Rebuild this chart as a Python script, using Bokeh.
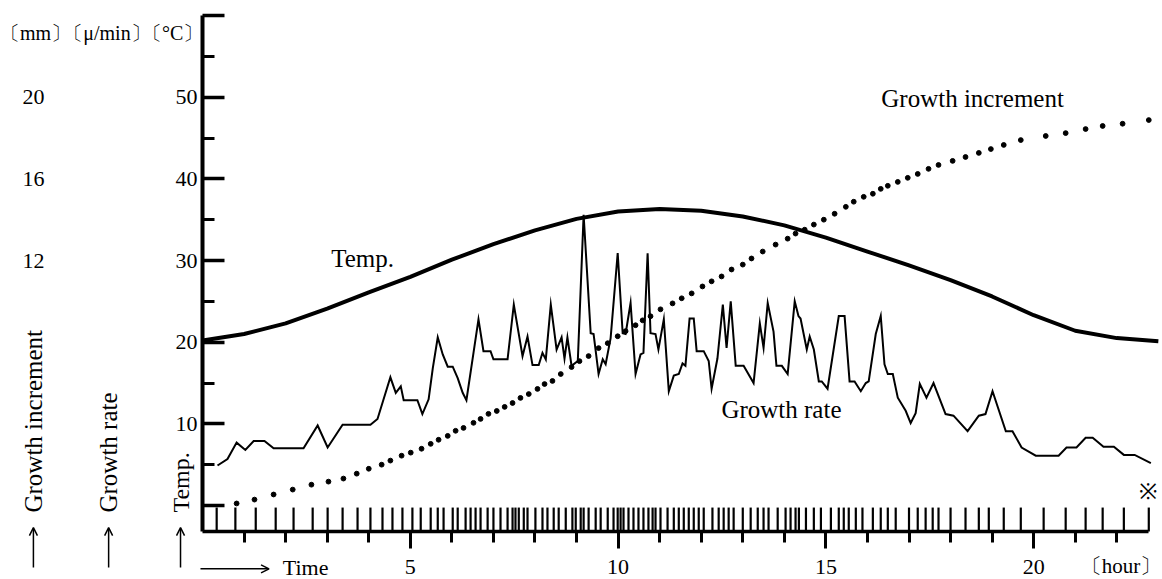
from bokeh.plotting import figure
from bokeh.models import Range1d, LinearAxis, FixedTicker, Arrow, OpenHead
from bokeh.core.properties import value
from bokeh.embed import file_html
from bokeh.resources import INLINE

# ---------------- data ----------------
temp_hours = [0, 1, 2, 3, 4, 5, 6, 7, 8, 9, 10, 11, 12, 13, 14, 15, 16, 17, 18, 19, 20, 21, 22, 23]
temp_c = [20.2, 21.0, 22.3, 24.1, 26.1, 28.0, 30.1, 32.0, 33.7, 35.1, 36.0, 36.3,
          36.1, 35.4, 34.3, 32.8, 31.1, 29.4, 27.6, 25.6, 23.3, 21.4, 20.5, 20.1]

rate_hours = [0.36, 0.60, 0.82, 1.03, 1.23, 1.49, 1.71, 2.43, 2.77, 3.01,
              3.37, 4.04, 4.21, 4.52, 4.65, 4.77, 4.84, 5.17, 5.29, 5.44,
              5.54, 5.66, 5.78, 5.90, 6.02, 6.14, 6.26, 6.35, 6.52, 6.64,
              6.76, 6.93, 7.00, 7.34, 7.49, 7.70, 7.82, 7.94, 8.09, 8.18,
              8.26, 8.38, 8.52, 8.64, 8.71, 8.78, 8.88, 9.03, 9.17, 9.34,
              9.41, 9.53, 9.63, 9.70, 9.82, 9.99, 10.11, 10.18, 10.30, 10.42,
              10.54, 10.61, 10.71, 10.78, 10.90, 10.97, 11.10, 11.22, 11.34, 11.46,
              11.55, 11.62, 11.72, 11.82, 11.89, 12.06, 12.18, 12.25, 12.39, 12.52,
              12.61, 12.71, 12.83, 13.02, 13.26, 13.41, 13.50, 13.60, 13.74, 13.81,
              13.94, 14.08, 14.25, 14.34, 14.39, 14.54, 14.61, 14.71, 14.83, 14.90,
              15.04, 15.31, 15.45, 15.57, 15.69, 15.84, 15.96, 16.03, 16.20, 16.32,
              16.41, 16.49, 16.61, 16.73, 16.92, 17.04, 17.16, 17.26, 17.42, 17.59,
              17.88, 18.07, 18.41, 18.68, 18.84, 19.01, 19.33, 19.49, 19.71, 20.05,
              20.60, 20.79, 21.03, 21.25, 21.42, 21.68, 21.93, 22.17, 22.43, 22.82]
rate_values = [4.9, 5.7, 7.7, 6.8, 7.9, 7.9, 7.0, 7.0, 9.8, 7.1,
               9.9, 9.9, 10.6, 15.7, 13.8, 14.6, 12.9, 12.9, 11.2, 13.0,
               16.8, 20.6, 18.5, 17.0, 17.0, 15.6, 13.8, 12.9, 18.7, 22.8,
               18.9, 18.9, 17.9, 17.9, 24.6, 18.3, 20.7, 17.2, 17.2, 18.7,
               17.9, 24.6, 19.1, 20.6, 18.0, 20.6, 17.1, 17.7, 35.6, 21.1,
               21.0, 16.1, 17.9, 17.3, 20.5, 30.9, 21.1, 21.0, 24.8, 16.1,
               18.5, 18.7, 30.9, 21.1, 21.0, 19.1, 22.8, 14.0, 15.9, 16.1,
               17.4, 17.1, 22.9, 22.9, 18.9, 18.9, 17.7, 14.3, 18.0, 24.6,
               19.3, 25.0, 17.1, 17.1, 15.0, 22.3, 19.3, 24.8, 21.3, 17.1,
               17.1, 16.1, 25.0, 23.2, 22.9, 19.1, 20.7, 19.1, 15.2, 15.2,
               14.3, 23.2, 23.2, 15.2, 15.2, 14.0, 15.0, 15.2, 21.0, 23.2,
               17.3, 16.1, 16.1, 13.2, 11.6, 10.1, 11.3, 14.9, 13.2, 15.0,
               11.2, 11.0, 9.1, 11.0, 11.2, 14.0, 9.1, 9.1, 7.1, 6.1,
               6.1, 7.1, 7.1, 8.3, 8.3, 7.2, 7.2, 6.2, 6.2, 5.2]

inc_hours = [0.82, 1.25, 1.71, 2.17, 2.62, 3.03, 3.39, 3.71, 4.00, 4.31,
             4.52, 4.79, 5.01, 5.27, 5.49, 5.68, 5.90, 6.09, 6.28, 6.52,
             6.69, 6.88, 7.08, 7.27, 7.46, 7.65, 7.85, 8.06, 8.23, 8.42,
             8.62, 8.88, 9.07, 9.29, 9.53, 9.75, 9.99, 10.18, 10.42, 10.59,
             10.78, 11.02, 11.31, 11.53, 11.77, 12.03, 12.25, 12.49, 12.73, 13.00,
             13.21, 13.48, 13.79, 14.08, 14.27, 14.49, 14.71, 14.95, 15.21, 15.48,
             15.67, 15.91, 16.13, 16.32, 16.49, 16.73, 16.97, 17.21, 17.47, 17.71,
             18.05, 18.36, 18.68, 18.97, 19.28, 19.69, 20.29, 20.77, 21.25, 21.66,
             22.14, 22.77]
inc_mm = [0.10, 0.29, 0.54, 0.78, 1.02, 1.17, 1.32, 1.56, 1.80, 2.00,
          2.20, 2.44, 2.59, 2.78, 3.02, 3.22, 3.41, 3.66, 3.80, 4.05,
          4.24, 4.49, 4.63, 4.83, 5.02, 5.27, 5.46, 5.71, 5.95, 6.10,
          6.44, 6.78, 7.07, 7.32, 7.71, 7.95, 8.29, 8.54, 8.83, 9.07,
          9.27, 9.61, 9.90, 10.15, 10.39, 10.73, 10.98, 11.22, 11.56, 11.80,
          12.10, 12.44, 12.78, 13.07, 13.32, 13.51, 13.76, 14.00, 14.29, 14.63,
          14.88, 15.12, 15.27, 15.51, 15.66, 15.85, 16.05, 16.24, 16.49, 16.68,
          16.88, 17.07, 17.27, 17.46, 17.66, 17.90, 18.10, 18.24, 18.44, 18.59,
          18.70, 18.88]

sample_hours = [0.34, 0.79, 1.28, 1.76, 2.19, 2.65, 3.01, 3.37, 3.73, 4.04,
                4.33, 4.57, 4.81, 5.05, 5.25, 5.49, 5.66, 5.80, 6.02, 6.14,
                6.33, 6.45, 6.57, 6.69, 6.86, 7.00, 7.17, 7.34, 7.46, 7.53,
                7.61, 7.73, 7.82, 8.01, 8.18, 8.30, 8.45, 8.57, 8.74, 8.90,
                8.98, 9.10, 9.17, 9.29, 9.46, 9.58, 9.75, 9.89, 9.99, 10.06,
                10.13, 10.25, 10.37, 10.49, 10.61, 10.73, 10.83, 10.90, 11.02, 11.19,
                11.34, 11.46, 11.58, 11.70, 11.82, 11.94, 12.06, 12.27, 12.42, 12.54,
                12.66, 12.78, 13.00, 13.19, 13.36, 13.50, 13.62, 13.84, 14.03, 14.15,
                14.27, 14.35, 14.52, 14.71, 14.88, 15.12, 15.31, 15.43, 15.55, 15.72,
                15.88, 16.13, 16.32, 16.49, 16.68, 17.00, 17.21, 17.40, 17.57, 17.71,
                18.00, 18.36, 18.68, 18.92, 19.28, 19.69, 20.24, 20.77, 21.25, 21.66,
                22.17, 22.77]

temp_ticks = [0, 10, 20, 30, 40, 50, 60]
temp_minor = [5, 15, 25, 35, 45, 55]
mm_labels = ["20", "16", "12"]
mm_label_temp = [50, 40, 30]
hour_ticks = [5, 10, 15, 20]
hour_minor = [1, 2, 3, 4, 6, 7, 8, 9, 11, 12, 13, 14, 16, 17, 18, 19, 21, 22]

SERIF = "Liberation Serif"
AXIS_Y = -3.18      # temperature value at which the time axis lies
END_H = 22.77       # end of the time axis (hours)

# ---------------- figure (frame covers the whole canvas) ----------------
p = figure(width=1162, height=579, output_backend="svg", toolbar_location=None,
           x_range=Range1d(-4.862, 23.1), y_range=Range1d(-9.06, 61.84),
           x_axis_type=None, y_axis_type=None,
           min_border_left=0, min_border_right=0, min_border_top=0, min_border_bottom=0)
p.outline_line_color = None
p.background_fill_color = "white"
p.border_fill_color = "white"
p.extra_y_ranges = {"mm": Range1d(-9.06 * 0.4, 61.84 * 0.4)}

yax = LinearAxis(ticker=FixedTicker(ticks=temp_ticks, minor_ticks=temp_minor),
                 fixed_location=0, bounds=(AXIS_Y, 60),
                 major_tick_in=22, major_tick_out=0, minor_tick_in=12, minor_tick_out=0,
                 axis_line_width=4, major_tick_line_width=3.5, minor_tick_line_width=3,
                 axis_line_color="black", major_tick_line_color="black", minor_tick_line_color="black",
                 major_label_overrides={0: "", 60: ""}, major_label_standoff=5,
                 major_label_text_font=SERIF, major_label_text_font_size="22px",
                 major_label_text_color="black")
p.add_layout(yax, "left")

xax = LinearAxis(ticker=FixedTicker(ticks=hour_ticks, minor_ticks=hour_minor),
                 fixed_location=AXIS_Y, bounds=(0, END_H),
                 major_tick_in=0, major_tick_out=17, minor_tick_in=0, minor_tick_out=11,
                 axis_line_width=3.5, major_tick_line_width=3, minor_tick_line_width=3,
                 axis_line_color="black", major_tick_line_color="black", minor_tick_line_color="black",
                 major_label_standoff=12,
                 major_label_text_font=SERIF, major_label_text_font_size="22px",
                 major_label_text_color="black")
p.add_layout(xax, "below")

# sampling marks on the time axis
p.segment(x0=sample_hours, y0=[AXIS_Y] * len(sample_hours), x1=sample_hours,
          y1=[-0.25] * len(sample_hours), line_color="black", line_width=2.2)

# curves
p.line(temp_hours, temp_c, line_color="black", line_width=4, line_join="round")
p.line(rate_hours, rate_values, line_color="black", line_width=2, line_join="miter")
p.scatter(inc_hours, inc_mm, y_range_name="mm", size=4.8, color="black")

def txt(x, y, t, size="25px", align="center", angle=0):
    p.text(x=[x], y=[y], text=[t], text_font=value(SERIF), text_font_size=size,
           text_align=align, text_baseline="middle", text_color="black", angle=angle)

txt(3.85, 30.2, "Temp.")
txt(13.93, 11.75, "Growth rate")
txt(18.53, 49.8, "Growth increment")
txt(22.74, 1.7, "※", size="22px")

# unit headers
txt(-4.02, 57.8, "〔mm〕", size="20px")
txt(-2.30, 57.8, "〔μ/min〕", size="20px")
txt(-0.72, 57.8, "〔°C〕", size="20px")
# mm tick labels
for lab, tv in zip(mm_labels, mm_label_temp):
    txt(-4.07, tv, lab, size="22px")
# rotated axis titles
txt(-4.07, -0.86, "Growth increment", size="25px", align="left", angle=1.5708)
txt(-2.26, -0.86, "Growth rate", size="25px", align="left", angle=1.5708)
txt(-0.53, -0.86, "Temp.", size="24px", align="left", angle=1.5708)
for xa in (-4.07, -2.26, -0.53):
    p.add_layout(Arrow(end=OpenHead(size=8, line_width=1.5, line_color="black"),
                       x_start=xa, y_start=-7.6, x_end=xa, y_end=-2.7,
                       line_width=1.5, line_color="black"))
# time caption
p.add_layout(Arrow(end=OpenHead(size=8, line_width=1.5, line_color="black"),
                   x_start=-0.05, y_start=-7.75, x_end=1.6, y_end=-7.75,
                   line_width=1.5, line_color="black"))
txt(1.93, -7.6, "Time", size="22px", align="left")
txt(21.13, -7.45, "〔hour〕", size="21px", align="left")

open("out.html", "w").write(file_html(p, INLINE))
